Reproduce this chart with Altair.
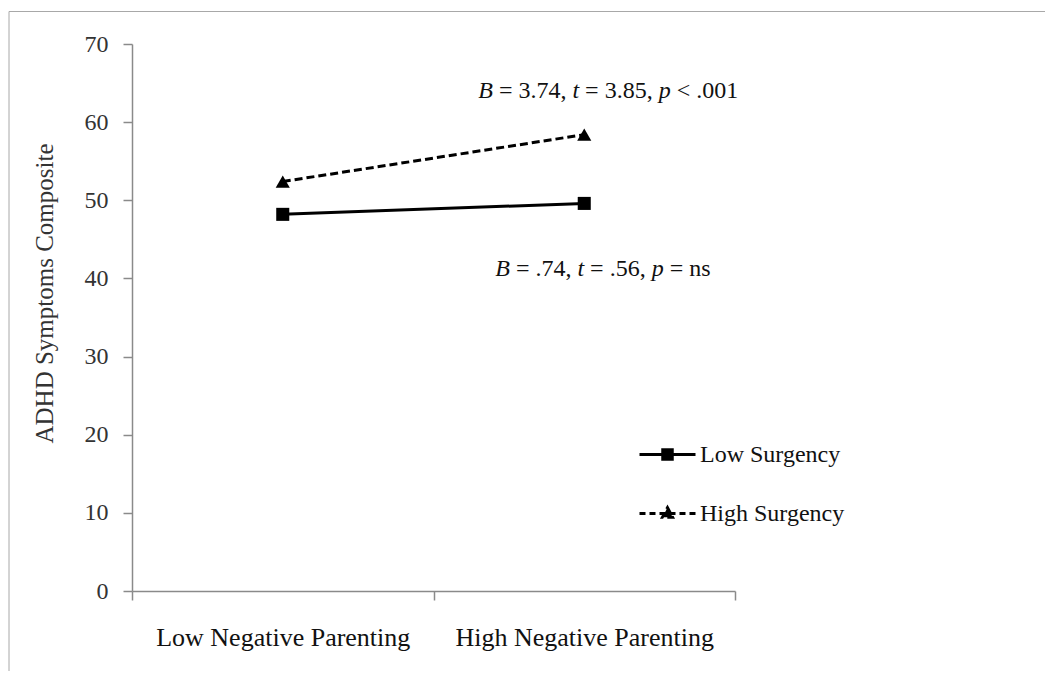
import altair as alt
import pandas as pd

# ---- data ----
categories = ["Low Negative Parenting", "High Negative Parenting"]
series_names = ["Low Surgency", "High Surgency"]
low_surgency = [48.2, 49.6]
high_surgency = [52.4, 58.4]
y_ticks = [0, 10, 20, 30, 40, 50, 60, 70]

annot_high_segments = [("B", True), ("= 3.74,", False), ("t", True),
                       ("= 3.85,", False), ("p", True), ("< .001", False)]
annot_low_segments = [("B", True), ("= .74,", False), ("t", True),
                      ("= .56,", False), ("p", True), ("= ns", False)]
annot_high_value = 63.1
annot_low_value = 40.3

# ---- styling ----
FONT = "Liberation Serif"
FS = 24
AXIS_GRAY = "#8a8a8a"

rows = []
for cat, v in zip(categories, low_surgency):
    rows.append({"parenting": cat, "series": series_names[0], "value": v})
for cat, v in zip(categories, high_surgency):
    rows.append({"parenting": cat, "series": series_names[1], "value": v})
df = pd.DataFrame(rows)


def x_enc(with_axis=False):
    if with_axis:
        return alt.X(
            "parenting:N", sort=categories, bandPosition=0.5,
            scale=alt.Scale(type="band", domain=categories, paddingInner=0, paddingOuter=0),
            axis=alt.Axis(title=None, tickBand="extent", tickSize=9, labelPadding=24,
                          labelFont=FONT, labelFontSize=26, labelColor="#111111",
                          labelAngle=0, labelLimit=0, domainColor=AXIS_GRAY,
                          tickColor=AXIS_GRAY, grid=False, domainWidth=1.5, tickWidth=1.5),
        )
    return alt.X("parenting:N", sort=categories, bandPosition=0.5)


def y_enc(with_axis=False):
    if with_axis:
        return alt.Y(
            "value:Q",
            scale=alt.Scale(domain=[0, 70], nice=False, zero=True),
            axis=alt.Axis(values=y_ticks, title="ADHD Symptoms Composite",
                          titleFont=FONT, titleFontSize=25, titleFontWeight="normal",
                          titleColor="#333333", titleX=-80, titleY=249, titleAngle=-90,
                          titleAlign="center", titleBaseline="alphabetic",
                          tickSize=9, labelPadding=15, labelFont=FONT, labelFontSize=FS,
                          labelColor="#333333", domainColor=AXIS_GRAY, tickColor=AXIS_GRAY,
                          grid=False, domainWidth=1.5, tickWidth=1.5),
        )
    return alt.Y("value:Q")


line_low = alt.Chart(df).transform_filter(
    alt.datum.series == series_names[0]
).mark_line(color="black", strokeWidth=3).encode(x=x_enc(True), y=y_enc(True))

line_high = alt.Chart(df).transform_filter(
    alt.datum.series == series_names[1]
).mark_line(color="black", strokeWidth=3, strokeDash=[8, 4]).encode(x=x_enc(), y=y_enc())

squares = alt.Chart(df).transform_filter(
    alt.datum.series == series_names[0]
).mark_square(size=170, color="black", opacity=1).encode(x=x_enc(), y=y_enc())

triangles = alt.Chart(df).transform_filter(
    alt.datum.series == series_names[1]
).mark_point(shape="triangle-up", filled=True, size=200, color="black", opacity=1).encode(
    x=x_enc(), y=y_enc())

# legend built from a shape scale with line+marker glyphs
path_square = "M-1,0H1M-0.17,-0.17H0.17V0.17H-0.17Z"
path_triangle = "M-1,0H1M0,-0.21L0.18,0.13H-0.18Z"


def make_legend():
    return alt.Legend(
        title=None, orient="none", legendX=506, legendY=381, padding=0,
        symbolSize=3136, labelFont=FONT, labelFontSize=FS, labelColor="#111111",
        labelOffset=3, rowPadding=17, labelLimit=0,
        symbolStrokeWidth=3, symbolOpacity=1,
    )


legend_layer = alt.Chart(df).transform_filter("false").mark_point(
    filled=False, fill="black", stroke="black", strokeWidth=3, opacity=1).encode(
    shape=alt.Shape(
        "series:N",
        scale=alt.Scale(domain=series_names, range=[path_square, path_triangle]),
        legend=make_legend(),
    ),
    strokeDash=alt.StrokeDash(
        "series:N",
        scale=alt.Scale(domain=series_names, range=[[1, 0], [6, 4]]),
        legend=make_legend(),
    ),
)

# annotations with italic statistics letters
WIDTHS = {" ": 0.25, "=": 0.564, "<": 0.564, ".": 0.25, ",": 0.25, "n": 0.5,
          "s": 0.389, "B": 0.611, "t": 0.278, "p": 0.5}
for d in "0123456789":
    WIDTHS[d] = 0.5


def annotation_layers(segments, value, start_dx):
    layers = []
    offset = start_dx
    for text, italic in segments:
        src = pd.DataFrame({"parenting": [categories[1]], "value": [value], "t": [text]})
        layers.append(
            alt.Chart(src).mark_text(
                align="left", baseline="alphabetic", dx=offset, font=FONT, fontSize=FS,
                fontStyle="italic" if italic else "normal", color="#111111",
            ).encode(x=x_enc(), y=y_enc(), text="t:N")
        )
        offset += (sum(WIDTHS.get(c, 0.5) for c in text) + WIDTHS[" "]) * FS
    return layers


texts = annotation_layers(annot_high_segments, annot_high_value, -106) + \
    annotation_layers(annot_low_segments, annot_low_value, -89)

frame = alt.Chart(pd.DataFrame({"a": [0]})).mark_rect(
    fill="transparent", stroke="#a8a8a8", strokeWidth=1).encode(
    x=alt.value(-123), x2=alt.value(1100), y=alt.value(-32.5), y2=alt.value(800))

chart = alt.layer(frame, line_low, line_high, squares, triangles, legend_layer, *texts).properties(
    width=603, height=547,
    autosize=alt.AutoSizeParams(type="none"),
    padding={"left": 124, "top": 36, "right": 310, "bottom": 80},
    background="white",
).configure_view(stroke=None)

chart.save("out.html", embed_options={"renderer": "svg", "actions": False})
